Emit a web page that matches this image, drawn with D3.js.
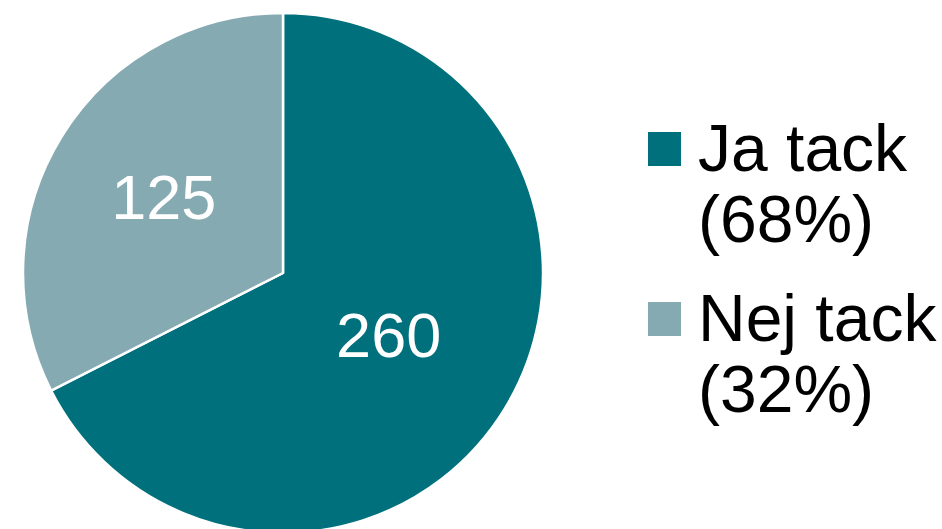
<!DOCTYPE html>
<html>
<head>
<meta charset="utf-8">
<script src="https://cdn.jsdelivr.net/npm/d3@7"></script>
<style>
  body { margin: 0; background: #fff; }
  svg { display: block; font-family: "Liberation Sans", Arial, sans-serif; }
</style>
</head>
<body>
<svg id="chart" width="942" height="529"></svg>
<script>
var categories = ["Ja tack", "Nej tack"]
var values = [260, 125]
var shares = ["(68%)", "(32%)"]
var colors = ["#00717c", "#85aab2"]

var svg = d3.select('#chart')
var cx = 283, cy = 273, radius = 260
var labelDist = [124, 140] // distance of value label from centre, per slice

var pie = d3.pie().sort(null).value(d => d)
var arcs = pie(values)

var arc = d3.arc().innerRadius(0).outerRadius(radius)

var g = svg.append('g').attr('transform', `translate(${cx},${cy})`)

g.selectAll('path.slice')
  .data(arcs).enter()
  .append('path')
  .attr('class', 'slice')
  .attr('d', arc)
  .attr('fill', (d, i) => colors[i])
  .attr('stroke', '#fff')
  .attr('stroke-width', 2.5)
  .attr('stroke-linejoin', 'round')

// value labels inside slices
g.selectAll('text.val')
  .data(arcs).enter()
  .append('text')
  .attr('class', 'val')
  .attr('transform', (d, i) => {
    var la = d3.arc().innerRadius(0).outerRadius(labelDist[i] * 2)
    return `translate(${la.centroid(d)})`
  })
  .attr('text-anchor', 'middle')
  .attr('dy', '0.3em')
  .attr('font-size', '63px')
  .attr('fill', '#fff')
  .text(d => d.data)

// legend
var legend = svg.append('g').attr('transform', 'translate(648,132)')
var item = legend.selectAll('g')
  .data(categories).enter()
  .append('g')
  .attr('transform', (d, i) => `translate(0,${i * 170})`)

item.append('rect')
  .attr('width', 33).attr('height', 34)
  .attr('fill', (d, i) => colors[i])

item.append('text')
  .attr('x', 50).attr('y', 39)
  .attr('font-size', '66px')
  .attr('fill', '#000')
  .text(d => d)

item.append('text')
  .attr('x', 50).attr('y', 110)
  .attr('font-size', '66px')
  .attr('fill', '#000')
  .text((d, i) => shares[i])
</script>
</body>
</html>
